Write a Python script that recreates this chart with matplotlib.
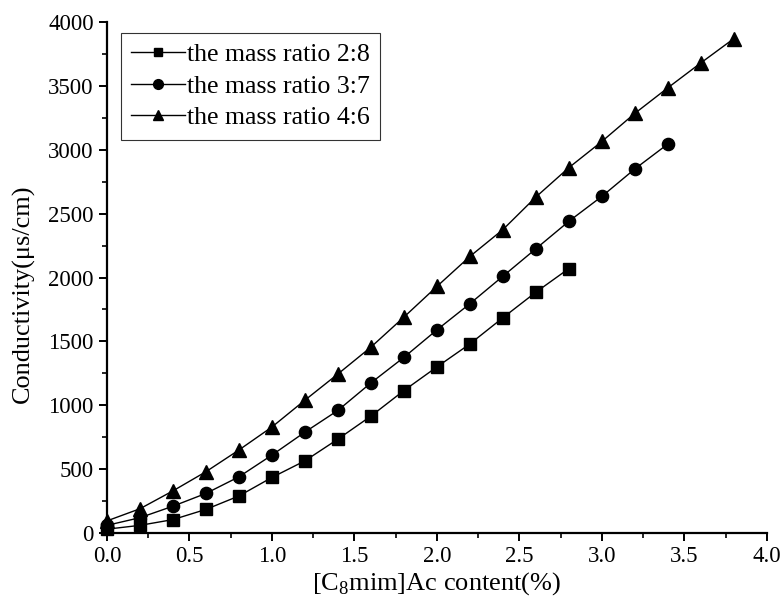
import matplotlib
matplotlib.use("Agg")
import matplotlib.pyplot as plt
from matplotlib.ticker import MultipleLocator

plt.rcParams["font.family"] = ["Liberation Serif", "DejaVu Serif"]
plt.rcParams["mathtext.fontset"] = "custom"
plt.rcParams["mathtext.rm"] = "Liberation Serif"

# ── data ────────────────────────────────────────────────────────────────────
x_28 = [0.0, 0.2, 0.4, 0.6, 0.8, 1.0, 1.2, 1.4, 1.6, 1.8, 2.0, 2.2, 2.4, 2.6, 2.8]
y_28 = [30, 60, 105, 185, 290, 435, 565, 735, 915, 1115, 1300, 1480, 1685, 1885, 2070]

x_37 = [0.0, 0.2, 0.4, 0.6, 0.8, 1.0, 1.2, 1.4, 1.6, 1.8, 2.0, 2.2, 2.4, 2.6,
        2.8, 3.0, 3.2, 3.4]
y_37 = [60, 120, 210, 310, 440, 610, 790, 960, 1175, 1375, 1590, 1795, 2010,
        2225, 2440, 2635, 2850, 3045]

x_46 = [0.0, 0.2, 0.4, 0.6, 0.8, 1.0, 1.2, 1.4, 1.6, 1.8, 2.0, 2.2, 2.4, 2.6,
        2.8, 3.0, 3.2, 3.4, 3.6, 3.8]
y_46 = [95, 190, 330, 480, 650, 830, 1040, 1245, 1455, 1690, 1930, 2165, 2375,
        2630, 2860, 3065, 3285, 3485, 3680, 3870]

labels = ["the mass ratio 2:8", "the mass ratio 3:7", "the mass ratio 4:6"]

# ── figure ──────────────────────────────────────────────────────────────────
fig = plt.figure(figsize=(7.84, 6.13), dpi=100)
ax = fig.add_axes([0.1365, 0.1305, 0.8415, 0.8335])

ax.plot(x_28, y_28, color="black", lw=1.0, marker="s", ms=8,
        label=labels[0], clip_on=False, zorder=3)
ax.plot(x_37, y_37, color="black", lw=1.0, marker="o", ms=8.8,
        label=labels[1], clip_on=False, zorder=3)
ax.plot(x_46, y_46, color="black", lw=1.0, marker="^", ms=9.8,
        label=labels[2], clip_on=False, zorder=3)

ax.set_xlim(0, 4.0)
ax.set_ylim(0, 4000)
ax.xaxis.set_major_locator(MultipleLocator(0.5))
ax.xaxis.set_minor_locator(MultipleLocator(0.25))
ax.yaxis.set_major_locator(MultipleLocator(500))
ax.yaxis.set_minor_locator(MultipleLocator(250))
ax.xaxis.set_major_formatter(plt.FormatStrFormatter("%.1f"))

for side in ("top", "right"):
    ax.spines[side].set_visible(False)
for side in ("left", "bottom"):
    ax.spines[side].set_linewidth(1.6)

ax.tick_params(which="major", direction="out", length=5.5, width=1.4,
               labelsize=16.5, pad=4)
ax.tick_params(which="minor", direction="out", length=3.5, width=1.2)

ax.set_xlabel(r"[C$_\mathrm{8}$mim]Ac content(%)", fontsize=19, labelpad=2)
ax.set_ylabel("Conductivity(μs/cm)", fontsize=18.9)
ax.yaxis.set_label_coords(-0.109, 0.468)

leg = ax.legend(loc="upper left", bbox_to_anchor=(0.021, 0.979),
                fontsize=18.6, frameon=True, fancybox=False,
                handlelength=2.1, handletextpad=0.05, borderpad=0.4,
                labelspacing=0.33, borderaxespad=0.0, markerscale=0.8)
leg.get_frame().set_edgecolor("black")
leg.get_frame().set_linewidth(0.8)

fig.savefig("out.png", dpi=100)
